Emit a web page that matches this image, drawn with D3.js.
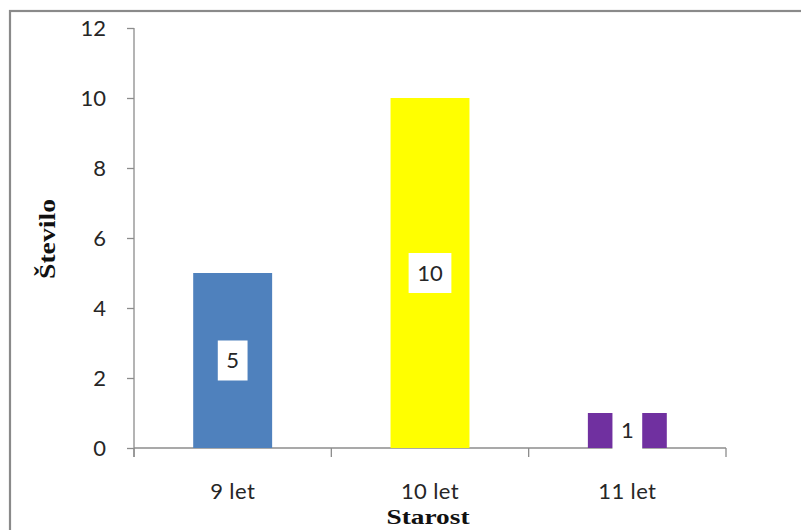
<!DOCTYPE html>
<html>
<head>
<meta charset="utf-8">
<script src="https://cdn.jsdelivr.net/npm/d3@7"></script>
<style>
  html, body { margin: 0; padding: 0; background: #fff; }
  svg { display: block; }
</style>
</head>
<body>
<svg id="chart" width="801" height="530"></svg>
<script>
const categories = ["9 let", "10 let", "11 let"];
const values = [5, 10, 1];
const barColors = ["#4F81BD", "#FFFF00", "#7030A0"];
const yTicks = [0, 2, 4, 6, 8, 10, 12];
const yTitle = "Število";
const xTitle = "Starost";

const svg = d3.select("#chart");
const W = 801, H = 530;
const mLeft = 134, mRight = 726, mTop = 28, mBottom = 448;
const textColor = "#262626";
const axisColor = "#8c8c8c";
const sansFont = "Lato, 'Open Sans', sans-serif";
const serifFont = "'Liberation Serif', 'DejaVu Serif', serif";

svg.append("rect").attr("width", W).attr("height", H).attr("fill", "#fff");
// chart area border (right and bottom cut off)
svg.append("rect")
  .attr("x", 10).attr("y", 11).attr("width", W + 10).attr("height", H + 10)
  .attr("fill", "#fff").attr("stroke", "#8a8a8a").attr("stroke-width", 2.2);

const x = d3.scaleBand().domain(categories).range([mLeft, mRight])
  .paddingInner(0.6).paddingOuter(0.3);
const y = d3.scaleLinear().domain([0, 12]).range([mBottom, mTop]);

// Y axis
const yAxis = svg.append("g").attr("transform", `translate(${mLeft},0)`)
  .call(d3.axisLeft(y).tickValues(yTicks).tickSize(7).tickPadding(21).tickFormat(d3.format("d")));
yAxis.select(".domain").attr("stroke", axisColor).attr("stroke-width", 1.3)
  .attr("d", `M0,${mTop}V${mBottom + 9}`);
yAxis.selectAll(".tick line").attr("stroke", axisColor).attr("stroke-width", 1.3);
yAxis.selectAll(".tick text").attr("fill", textColor)
  .style("font-family", sansFont).style("font-size", "22px");

// X axis line and boundary ticks
svg.append("line").attr("x1", mLeft).attr("x2", mRight).attr("y1", mBottom).attr("y2", mBottom)
  .attr("stroke", axisColor).attr("stroke-width", 1.3);
svg.selectAll(".xb").data(d3.range(categories.length + 1)).enter().append("line")
  .attr("x1", i => mLeft + i * (mRight - mLeft) / categories.length)
  .attr("x2", i => mLeft + i * (mRight - mLeft) / categories.length)
  .attr("y1", mBottom).attr("y2", mBottom + 9)
  .attr("stroke", axisColor).attr("stroke-width", 1.3);

// X labels
svg.selectAll(".xl").data(categories).enter().append("text")
  .attr("x", d => x(d) + x.bandwidth() / 2)
  .attr("y", 499)
  .attr("text-anchor", "middle")
  .attr("fill", textColor)
  .style("font-family", sansFont).style("font-size", "22px")
  .style("letter-spacing", "0.4px")
  .text(d => d);

// Bars
svg.selectAll(".bar").data(values).enter().append("rect")
  .attr("x", (d, i) => x(categories[i]))
  .attr("y", d => y(d))
  .attr("width", x.bandwidth())
  .attr("height", d => y(0) - y(d))
  .attr("fill", (d, i) => barColors[i]);

// Value labels with white boxes
values.forEach((v, i) => {
  const cx = x(categories[i]) + x.bandwidth() / 2;
  const cy = (y(v) + y(0)) / 2;
  const g = svg.append("g");
  const box = g.append("rect").attr("fill", "#fff");
  const t = g.append("text")
    .attr("x", cx).attr("y", cy)
    .attr("text-anchor", "middle").attr("dy", "0.36em")
    .attr("fill", textColor)
    .style("font-family", sansFont).style("font-size", "22px")
    .text(v);
  const bb = t.node().getBBox();
  const bw = bb.width + 17;
  box.attr("x", cx - bw / 2).attr("y", cy - 20).attr("width", bw).attr("height", 40);
});

// Axis titles
svg.append("text")
  .attr("transform", `translate(55,239) rotate(-90)`)
  .attr("text-anchor", "middle")
  .attr("fill", "#111")
  .attr("textLength", 80).attr("lengthAdjust", "spacingAndGlyphs")
  .style("font-family", serifFont).style("font-weight", "bold").style("font-size", "23px")
  .text(yTitle);

svg.append("text")
  .attr("x", 428).attr("y", 524)
  .attr("text-anchor", "middle")
  .attr("fill", "#111")
  .attr("textLength", 83).attr("lengthAdjust", "spacingAndGlyphs")
  .style("font-family", serifFont).style("font-weight", "bold").style("font-size", "22px")
  .text(xTitle);
</script>
</body>
</html>
